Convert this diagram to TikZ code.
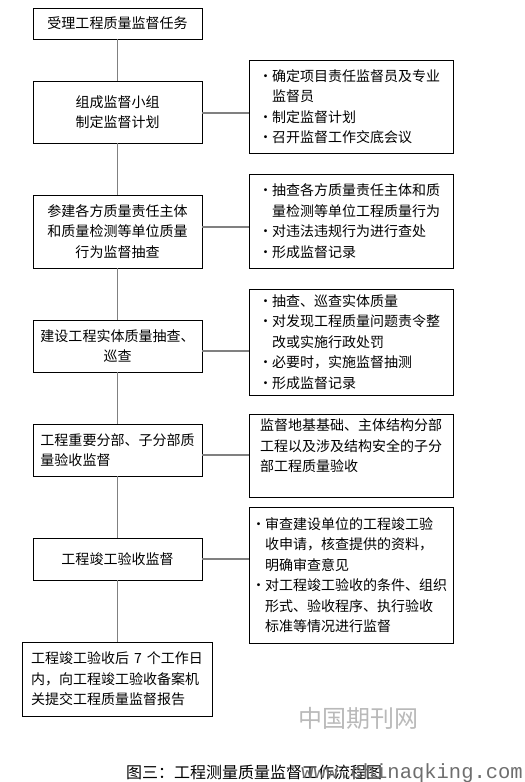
\documentclass[tikz,border=0pt]{standalone}
\usepackage{fontspec}
\setmainfont{Noto Sans CJK SC}
\newfontfamily\urlfont{Liberation Mono}
\newcommand\bulitem{\makebox[10bp][l]{\hspace{-3.5bp}·}}
\newcommand\bulcont{\hspace*{10bp}}
\definecolor{linkgray}{RGB}{128,128,128}
\definecolor{wmgray}{RGB}{185,185,185}
\definecolor{urlgray}{RGB}{110,110,110}
\tikzset{
  box/.style={draw=black, line width=0.9bp, inner sep=0pt, font={\fontsize{14bp}{20.5bp}\selectfont}},
  lbox/.style={box, minimum width=169bp},
  rbox/.style={box, minimum width=204bp, align=left},
  link/.style={draw=linkgray, line width=1.5bp}
}
\begin{document}
\begin{tikzpicture}[x=1bp,y=-1bp]
\useasboundingbox (0,0) rectangle (525,782);
% left column
\node[lbox, minimum height=31bp, align=center] (L1) at (117.5,23.5) {受理工程质量监督任务};
\node[lbox, minimum height=62bp, align=center] (L2) at (117.5,112) {组成监督小组\\制定监督计划};
\node[lbox, minimum height=73bp, align=center] (L3) at (117.5,231.5) {参建各方质量责任主体\\和质量检测等单位质量\\行为监督抽查};
\node[lbox, minimum height=52bp, align=center] (L4) at (117.5,346) {建设工程实体质量抽查、\\巡查};
\node[lbox, minimum height=52bp, align=left] (L5) at (117.5,450) {工程重要分部、子分部质\\量验收监督};
\node[lbox, minimum height=42bp, align=center] (L6) at (117.5,559) {工程竣工验收监督};
\node[box, minimum width=190bp, minimum height=74bp, align=left] (L7) at (117,679) {工程竣工验收后\hspace{5bp}7\hspace{5bp}个工作日\\内，向工程竣工验收备案机\\关提交工程质量监督报告};
% right column
\node[rbox, minimum height=93bp] (R1) at (351,106.5) {\bulitem 确定项目责任监督员及专业\\\bulcont 监督员\\\bulitem 制定监督计划\\\bulitem 召开监督工作交底会议};
\node[rbox, minimum height=94bp] (R2) at (351,221) {\bulitem 抽查各方质量责任主体和质\\\bulcont 量检测等单位工程质量行为\\\bulitem 对违法违规行为进行查处\\\bulitem 形成监督记录};
\node[rbox, minimum height=106bp] (R3) at (351,342) {\bulitem 抽查、巡查实体质量\\\bulitem 对发现工程质量问题责令整\\\bulcont 改或实施行政处罚\\\bulitem 必要时，实施监督抽测\\\bulitem 形成监督记录};
\node[rbox, minimum height=83bp] (R4) at (351,455.5) {监督地基基础、主体结构分部\\工程以及涉及结构安全的子分\\部工程质量验收\\\mbox{}};
\node[rbox, minimum height=136bp] (R5) at (351,575) {\bulitem 审查建设单位的工程竣工验\\\bulcont 收申请，核查提供的资料，\\\bulcont 明确审查意见\\\bulitem 对工程竣工验收的条件、组织\\\bulcont 形式、验收程序、执行验收\\\bulcont 标准等情况进行监督};
% vertical connectors
\draw[link] (L1.south) -- (L2.north);
\draw[link] (L2.south) -- (L3.north);
\draw[link] (L3.south) -- (L4.north);
\draw[link] (L4.south) -- (L5.north);
\draw[link] (L5.south) -- (L6.north);
\draw[link] (L6.south) -- (L6.south |- L7.north);
% horizontal connectors
\draw[link] ([yshift=-1bp]L2.east) -- ([yshift=-1bp]L2.east -| R1.west);
\draw[link] ([yshift=4.5bp]L3.east) -- ([yshift=4.5bp]L3.east -| R2.west);
\draw[link] ([yshift=-5bp]L4.east) -- ([yshift=-5bp]L4.east -| R3.west);
\draw[link] ([yshift=-5bp]L5.east) -- ([yshift=-5bp]L5.east -| R4.west);
\draw[link] (L6.east) -- (L6.east -| R5.west);
% watermark and caption
\node[text=wmgray, font={\fontsize{24bp}{26bp}\selectfont}, inner sep=0pt] (wm) at (358,718) {中国期刊网};
\node[font={\fontsize{16bp}{18bp}\selectfont}, inner sep=0pt] (cap) at (254,772) {图三：工程测量质量监督工作流程图};
\node[text=urlgray, font={\urlfont\fontsize{20.5bp}{22bp}\selectfont}, inner sep=0pt, anchor=east] (url) at (523,773) {www.chinaqking.com};
\end{tikzpicture}
\end{document}
